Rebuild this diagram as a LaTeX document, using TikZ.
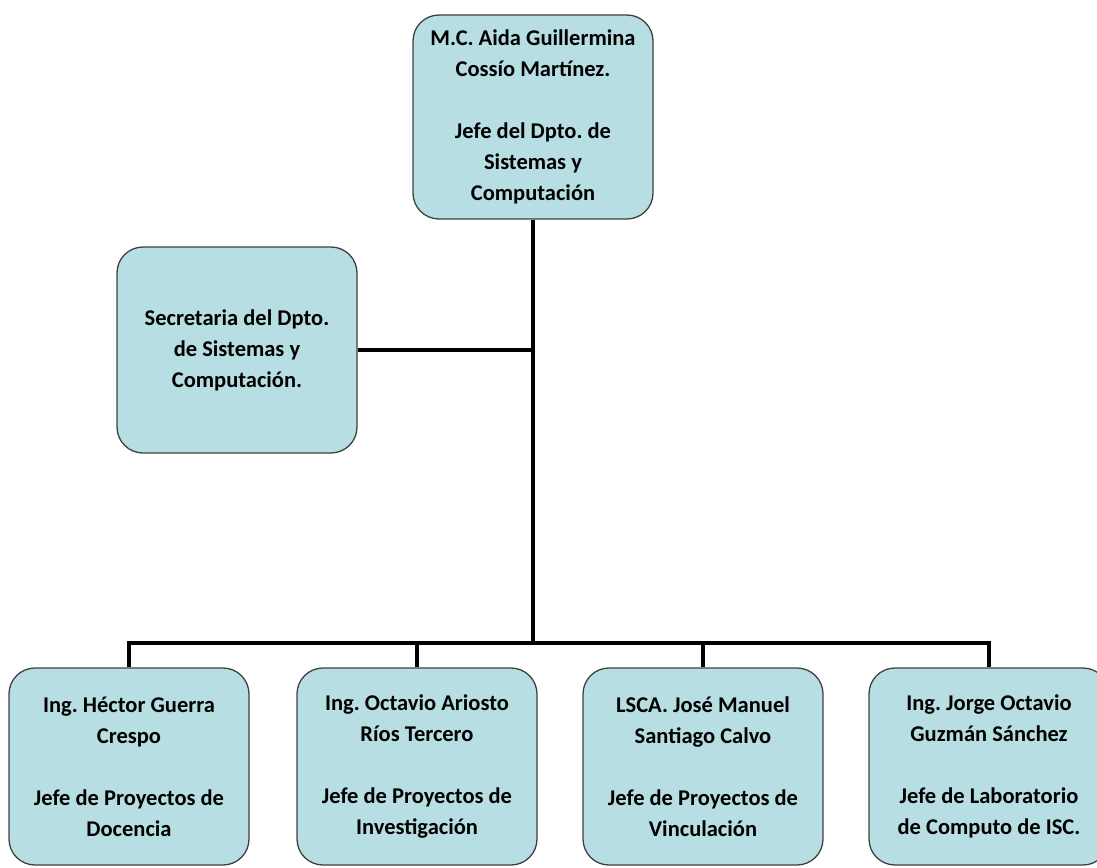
\documentclass[tikz,border=0pt]{standalone}
\usepackage{fontspec}
\setmainfont{Carlito}
\frenchspacing
\definecolor{celeste}{RGB}{183,222,226}

\begin{document}
\begin{tikzpicture}[
        x=1pt, y=-1pt,
        every node/.style={font=\bfseries\fontsize{22.5}{31}\selectfont},
        puesto/.style={rectangle, draw=black!75, line width=1.3pt, fill=celeste, rounded corners=26pt, minimum width=240pt, align=center, inner sep=0pt},
        linea/.style={line width=4.8pt, draw=black, line join=miter}
        ]

        % Page frame (last box runs off the right edge)
        \clip (0,0) rectangle (1097,867);

        % Jefe and secretaria
        \node[puesto, minimum height=204pt] (jefe) at (533,117) {M.C. Aida Guillermina\\Cossío Martínez.\\[31pt]Jefe del Dpto. de\\Sistemas y\\Computación};
        \node[puesto, minimum height=206pt] (secre) at (237,350) {Secretaria del Dpto.\\de Sistemas y\\Computación.};

        % Jefes de proyecto, one row at the bottom
        \node[puesto, minimum height=197pt] (doc) at (129,766.5) {Ing. Héctor Guerra\\Crespo\\[31pt]Jefe de Proyectos de\\Docencia};
        \node[puesto, minimum height=197pt] (inv) at (417,766.5) {Ing. Octavio Ariosto\\Ríos Tercero\\[31pt]Jefe de Proyectos de\\Investigación};
        \node[puesto, minimum height=197pt] (vin) at (703,766.5) {LSCA. José Manuel\\Santiago Calvo\\[31pt]Jefe de Proyectos de\\Vinculación};
        \node[puesto, minimum height=197pt] (lab) at (989,766.5) {Ing. Jorge Octavio\\Guzmán Sánchez\\[31pt]Jefe de Laboratorio\\de Computo de ISC.};

        \coordinate (bus) at (533,643);

        % Connectors
        \draw[linea] (jefe.south) -- (bus);
        \draw[linea] (secre.east) -- (secre.east -| jefe.south);
        \draw[linea] (doc.north) |- (lab.north |- bus) -- (lab.north);
        \draw[linea] (inv.north) -- (inv.north |- bus);
        \draw[linea] (vin.north) -- (vin.north |- bus);

    \end{tikzpicture}
\end{document}
